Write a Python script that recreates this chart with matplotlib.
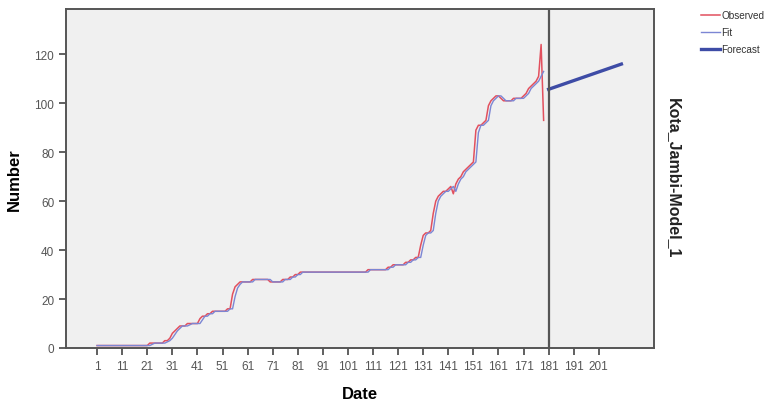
import matplotlib
matplotlib.use("Agg")
import matplotlib.pyplot as plt
import numpy as np

plt.rcParams["font.family"] = ["Liberation Sans", "DejaVu Sans"]

# ---- data ----
observed = [
    1, 1, 1, 1, 1, 1, 1, 1, 1, 1,
    1, 1, 1, 1, 1, 1, 1, 1, 1, 1,
    1, 2, 2, 2, 2, 2, 2, 3, 3, 4,
    6, 7, 8, 9, 9, 9, 10, 10, 10, 10,
    10, 12, 13, 13, 14, 14, 15, 15, 15, 15,
    15, 15, 16, 16, 22, 25, 26, 27, 27, 27,
    27, 27, 28, 28, 28, 28, 28, 28, 28, 27,
    27, 27, 27, 27, 28, 28, 28, 29, 29, 30,
    30, 31, 31, 31, 31, 31, 31, 31, 31, 31,
    31, 31, 31, 31, 31, 31, 31, 31, 31, 31,
    31, 31, 31, 31, 31, 31, 31, 31, 32, 32,
    32, 32, 32, 32, 32, 32, 33, 33, 34, 34,
    34, 34, 34, 35, 35, 36, 36, 37, 37, 42,
    46, 47, 47, 48, 55, 60, 62, 63, 64, 64,
    65, 66, 63, 67, 69, 70, 72, 73, 74, 75,
    76, 89, 91, 91, 92, 93, 99, 101, 102, 103,
    103, 102, 101, 101, 101, 101, 102, 102, 102, 102,
    103, 104, 106, 107, 108, 109, 111, 124, 93,
]
fit = [
    1, 1, 1, 1, 1, 1, 1, 1, 1, 1,
    1, 1, 1, 1, 1, 1, 1, 1, 1, 1,
    1, 1, 1.5, 2, 2, 2, 2, 2, 2.5, 3,
    4, 5.5, 7, 8, 9, 9, 9, 9.5, 10, 10,
    10, 10, 11.5, 13, 13, 14, 14, 15, 15, 15,
    15, 15, 15, 16, 16, 21, 24.5, 26, 27, 27,
    27, 27, 27, 28, 28, 28, 28, 28, 28, 28,
    27, 27, 27, 27, 27, 28, 28, 28, 29, 29,
    30, 30, 31, 31, 31, 31, 31, 31, 31, 31,
    31, 31, 31, 31, 31, 31, 31, 31, 31, 31,
    31, 31, 31, 31, 31, 31, 31, 31, 31, 32,
    32, 32, 32, 32, 32, 32, 32, 33, 33, 34,
    34, 34, 34, 34, 35, 35, 36, 36, 37, 37,
    42, 46, 47, 47, 48, 55, 60, 62, 63, 64,
    64, 65, 66, 64, 67, 69, 70, 72, 73, 74,
    75, 76, 88, 91, 91, 92, 93, 99, 101, 102,
    103, 103, 102, 101, 101, 101, 101, 102, 102, 102,
    102, 103, 104, 106, 107, 108, 109, 111, 113,
]
days = list(range(1, len(observed) + 1))
forecast_days = [181, 210]
forecast_values = [105.7, 116]
forecast_origin = 181
xtick_labels = list(range(1, 202, 10))
yticks = [0, 20, 40, 60, 80, 100, 120]
model_name = "Kota_Jambi-Model_1"

# ---- figure ----
W, H = 764, 402
fig = plt.figure(figsize=(W / 100, H / 100), dpi=100)
fig.patch.set_facecolor("white")
ax = fig.add_axes([66 / W, 1 - 349 / H, (654 - 66) / W, (349 - 10) / H])
ax.set_facecolor("#f0f0f0")

c_obs = "#e2505e"
c_fit = "#7c86d4"
c_fc = "#3e4ca6"

ax.plot(days, observed, color=c_obs, lw=1.1, label="Observed", zorder=3)
ax.plot(days, fit, color=c_fit, lw=1.0, label="Fit", zorder=4)
ax.plot(forecast_days, forecast_values, color=c_fc, lw=2.4, label="Forecast", zorder=5)
ax.axvline(forecast_origin, color="#555555", lw=1.6, zorder=6)

ax.set_xlim(-11.4, 223)
ax.set_ylim(0, 138.5)
ax.set_xticks(xtick_labels)
ax.set_xticklabels([str(v) for v in xtick_labels])
ax.set_yticks(yticks)
ax.tick_params(axis="both", direction="out", length=5, width=1.2, color="#444444",
               labelsize=8.5, labelcolor="#555555")
for s in ax.spines.values():
    s.set_color("#555555")
    s.set_linewidth(1.4)

ax.set_xlabel("Date", fontsize=12, fontweight="bold", labelpad=10)
ax.set_ylabel("Number", fontsize=12, fontweight="bold", labelpad=9)

fig.text(673 / W, 1 - 178 / H, model_name, rotation=-90, ha="center", va="center",
         fontsize=11.5, fontweight="bold", color="#222222")

leg = fig.legend(loc="upper left", bbox_to_anchor=(699 / W, 1 - 9 / H), frameon=False,
                 fontsize=7.2, handlelength=1.9, handletextpad=0.15, labelspacing=0.7,
                 borderpad=0.2, borderaxespad=0.0)
for t in leg.get_texts():
    t.set_color("#333333")

fig.savefig("out.png", dpi=100)
